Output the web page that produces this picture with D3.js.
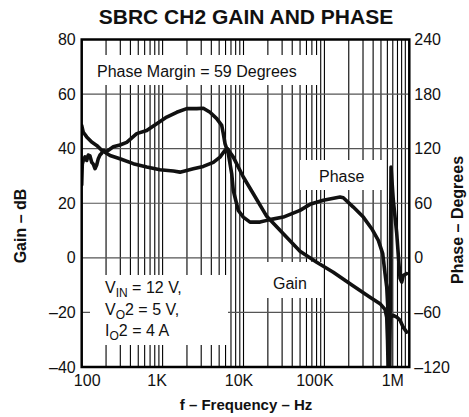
<!DOCTYPE html>
<html><head><meta charset="utf-8">
<script src="https://cdn.jsdelivr.net/npm/d3@7"></script>
<style>
html,body{margin:0;padding:0;background:#fff;}
svg{display:block;font-family:"Liberation Sans",Arial,Helvetica,sans-serif;}
</style></head>
<body><div id="chart"></div>
<script>
const title = "SBRC CH2 GAIN AND PHASE";
const xTickValues = [100, 1e3, 1e4, 1e5, 1e6];
const xTickLabels = ["100", "1K", "10K", "100K", "1M"];
const gainTicks = [80, 60, 40, 20, 0, -20, -40];
const phaseTicks = [240, 180, 120, 60, 0, -60, -120];

const gainFreq = [100,104.7,115.3,132.9,153.2,176.7,224,297,434,636,929,1356,1641,2396,3185,4233,5125,5906,6341,7480,9943,13220,19360,31050,49930,80300,128800,207300,366200,486800,561300,589100,602600,614700,637700,656200,710900,783000,860300,944800,1040800];
const gainDb   = [48.5,46,44.3,42.4,41.2,39.4,37.5,36.3,34.5,33.3,32.3,31.8,31.4,32.6,33.5,35,36.9,39.4,40,36.9,29.6,23.5,15.2,8.8,2.4,-1.6,-5.3,-9.5,-14.4,-16.8,-18.9,-21.8,-30.2,-42,-26.6,-21.8,-21.1,-21.7,-22.9,-25.5,-27.2];

const phaseFreq = [100,101.7,104.7,109.9,115.3,120.7,126.6,132.9,139.1,146,153.2,160.4,168.3,176.7,184.9,203.7,245.8,297,359.9,478.6,636,845.6,1124,1494,1986,2640,3185,3854,4664,5377,5627,5906,6488,7146,7480,8623,9943,12030,16000,21270,31050,49930,66370,96930,156000,171200,227600,302600,384400,463800,525700,561300,589100,616600,634300,643400,665600,710900,783000,860300,902600,944800,1040800];
const phaseDeg  = [80,103,107,111,107,113,112,105,103,98,102,109,113,115,118,117,122,124,127,136.5,140,147.5,154.7,160,164,164,164.5,160,153,145.6,136.5,125.5,114.5,92.5,74,52,44.8,39.3,39.3,42,44.8,52.2,58.8,63.2,66.8,66,55.8,44.8,32,19.2,4.6,-17.4,-32,-65,-101.6,-125,99.8,63,27,-22.5,-26.6,-19.2,-17.4];

const W = 469, H = 417;
const L = 81.7, R = 409.3, T = 39.5, B = 367;

const svg = d3.select("#chart").append("svg").attr("width", W).attr("height", H);

const x = d3.scaleLog().domain([100, 1.12e6]).range([L, R]);
const yG = d3.scaleLinear().domain([-40, 80]).range([B, T]);
const yP = d3.scaleLinear().domain([-120, 240]).range([B, T]);

// vertical grid (2..9 per decade)
const gridF = [];
for (let d = 100; d < 1.2e6; d *= 10) for (let m = 1; m <= 9; m++) { const f = d * m; if (f > 100 && f <= 1.12e6) gridF.push(f); }
svg.append("g").selectAll("line").data(gridF).join("line")
  .attr("x1", d => x(d)).attr("x2", d => x(d)).attr("y1", T).attr("y2", B)
  .attr("stroke", "#000").attr("stroke-width", 1.1);
svg.append("g").selectAll("line").data(gainTicks.slice(1, -1)).join("line")
  .attr("x1", L).attr("x2", R).attr("y1", d => yG(d)).attr("y2", d => yG(d))
  .attr("stroke", "#555").attr("stroke-width", 1.1);

// annotation boxes
const boxes = [
  {x: 85, y: 55, w: 233, h: 30},
  {x: 300, y: 160, w: 83, h: 30},
  {x: 262, y: 262, w: 60, h: 36},
  {x: 90, y: 275, w: 138, h: 70}
];
svg.append("g").selectAll("rect").data(boxes).join("rect")
  .attr("x", d => d.x).attr("y", d => d.y).attr("width", d => d.w).attr("height", d => d.h)
  .attr("fill", "#fff");

const txt = (t, xx, yy, opts = {}) => svg.append("text").attr("x", xx).attr("y", yy)
  .attr("font-size", opts.size || 16).attr("font-weight", opts.bold ? "bold" : "normal")
  .attr("text-anchor", opts.anchor || "start").attr("fill", "#111").text(t);

txt("Phase Margin = 59 Degrees", 97, 77);
txt("Phase", 319, 182);
txt("Gain", 273, 289);
const sub = (xx, yy, a, s, b) => {
  const t = svg.append("text").attr("x", xx).attr("y", yy).attr("font-size", 16).attr("fill", "#111");
  t.append("tspan").text(a);
  t.append("tspan").attr("font-size", 12).attr("dy", 4).text(s);
  t.append("tspan").attr("dy", -4).text(b);
};
sub(105, 293, "V", "IN", " = 12 V,");
sub(105, 315, "V", "O", "2 = 5 V,");
sub(105, 336, "I", "O", "2 = 4 A");

// curves
svg.append("clipPath").attr("id", "clip").append("rect").attr("x", L).attr("y", T).attr("width", R - L).attr("height", B - T);
const cg = svg.append("g").attr("clip-path", "url(#clip)");
const gainData = gainFreq.map((f, i) => [f, gainDb[i]]);
const phaseData = phaseFreq.map((f, i) => [f, phaseDeg[i]]);
cg.append("path").datum(gainData)
  .attr("d", d3.line().x(d => x(d[0])).y(d => yG(d[1])))
  .attr("fill", "none").attr("stroke", "#111").attr("stroke-width", 3.6).attr("stroke-linejoin", "round").attr("stroke-linecap", "round");
cg.append("path").datum(phaseData)
  .attr("d", d3.line().x(d => x(d[0])).y(d => yP(d[1])))
  .attr("fill", "none").attr("stroke", "#111").attr("stroke-width", 3.6).attr("stroke-linejoin", "round").attr("stroke-linecap", "round");

// frame
svg.append("rect").attr("x", L).attr("y", T).attr("width", R - L).attr("height", B - T)
  .attr("fill", "none").attr("stroke", "#000").attr("stroke-width", 2.5);

// axes
const axL = svg.append("g").attr("transform", `translate(${L},0)`)
  .call(d3.axisLeft(yG).tickValues(gainTicks).tickSize(0).tickPadding(6).tickFormat(d => d < 0 ? "–" + (-d) : d));
const axR = svg.append("g").attr("transform", `translate(${R},0)`)
  .call(d3.axisRight(yP).tickValues(phaseTicks).tickSize(0).tickPadding(5).tickFormat(d => d < 0 ? "–" + (-d) : d));
const labelShift = [5, -6, -5, -10, -13];
const axB = svg.append("g").attr("transform", `translate(0,${B})`)
  .call(d3.axisBottom(x).tickValues(xTickValues).tickSize(0).tickPadding(8).tickFormat((d, i) => xTickLabels[i]));
axB.selectAll("text").attr("dx", (d, i) => labelShift[i]);
[axL, axR, axB].forEach(a => {
  a.select(".domain").remove();
  a.selectAll("text").attr("font-size", 16).attr("fill", "#111").attr("font-family", "'Liberation Sans',Arial,sans-serif");
});

txt(title, 246, 24, {size: 21, bold: true, anchor: "middle"});
txt("f – Frequency – Hz", 246, 410, {size: 15, bold: true, anchor: "middle"});
svg.append("text").attr("transform", "translate(26,226) rotate(-90)").attr("text-anchor", "middle")
  .attr("font-size", 16).attr("font-weight", "bold").attr("fill", "#111").text("Gain – dB");
svg.append("text").attr("transform", "translate(463,220) rotate(-90)").attr("text-anchor", "middle")
  .attr("font-size", 16).attr("font-weight", "bold").attr("fill", "#111").text("Phase – Degrees");
</script></body></html>
